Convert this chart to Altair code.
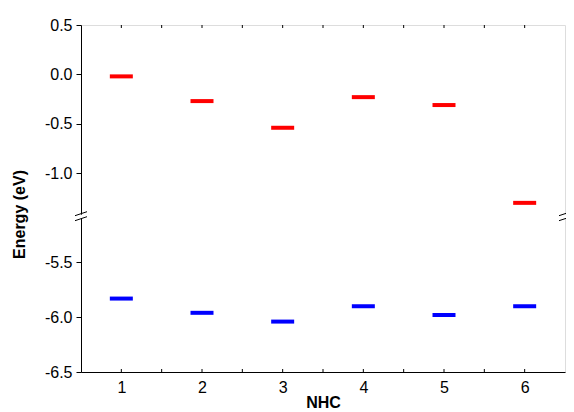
import altair as alt
import pandas as pd

nhc = [1, 2, 3, 4, 5, 6]
lumo = [-0.02, -0.27, -0.54, -0.23, -0.31, -1.30]
homo = [-5.83, -5.96, -6.04, -5.90, -5.98, -5.90]
y_ticks = [-6.5, -6.0, -5.5, -1.0, -0.5, 0.0, 0.5]
minor_x = [1.5, 2.5, 3.5, 4.5, 5.5]

W, H = 484, 347
BREAK_PX = 191.7
y_domain = [-6.5, -5.083, -1.44, 0.5]
y_range = [H, BREAK_PX, BREAK_PX, 0]

df = pd.DataFrame({
    "NHC": nhc * 2,
    "Energy": lumo + homo,
    "Level": ["LUMO"] * 6 + ["HOMO"] * 6,
})

FONT = "Liberation Sans"

xscale = alt.Scale(domain=[0.5, 6.5], nice=False, zero=False)
yscale = alt.Scale(domain=y_domain, range=y_range, nice=False, zero=False)

x_axis = alt.Axis(
    values=nhc, format="d", title="NHC", grid=False, ticks=False,
    labelFont=FONT, labelFontSize=16, labelColor="black", labelPadding=7,
    titleFont=FONT, titleFontSize=16, titleFontWeight="bold", titleColor="black",
    titleBaseline="alphabetic", titleY=35,
    domainColor="black", domainWidth=1,
)
y_axis = alt.Axis(
    values=y_ticks, title="Energy (eV)", grid=False,
    labelExpr="replace(format(datum.value, '.1f'), '\u2212', '-')",
    labelFont=FONT, labelFontSize=16, labelColor="black", labelPadding=4,
    tickSize=5, tickColor="black", domainColor="black", domainWidth=1,
    titleFont=FONT, titleFontSize=16, titleFontWeight="bold", titleColor="black",
    titleBaseline="alphabetic", titleX=-57, titleY=189, titleAngle=-90,
)

bars = alt.Chart(df).mark_tick(orient="horizontal", size=23, thickness=4, opacity=1).encode(
    x=alt.X("NHC:Q", scale=xscale, axis=x_axis),
    y=alt.Y("Energy:Q", scale=yscale, axis=y_axis),
    color=alt.Color("Level:N", scale=alt.Scale(domain=["LUMO", "HOMO"], range=["#ff0000", "#0000ff"]), legend=None),
)

tick_df = pd.DataFrame({"x": nhc + minor_x})
top_ticks = alt.Chart(tick_df).mark_rule(color="black", strokeWidth=1).encode(
    x=alt.X("x:Q", scale=xscale), y=alt.value(0), y2=alt.value(3)
)
bot_ticks = alt.Chart(tick_df).mark_rule(color="black", strokeWidth=1).encode(
    x=alt.X("x:Q", scale=xscale), y=alt.value(H - 3), y2=alt.value(H)
)

# axis break decoration
gap = alt.Chart(pd.DataFrame({"s": ["L", "R"], "xp": [0, W]})).mark_rule(color="white", strokeWidth=4).encode(
    x=alt.X("xp:Q", scale=None), y=alt.value(BREAK_PX - 2), y2=alt.value(BREAK_PX + 2)
)
slash_df = pd.DataFrame({
    "x1": [-6, -6, W - 6, W - 6],
    "x2": [6, 6, W + 6, W + 6],
    "y1": [BREAK_PX - 1, BREAK_PX + 4, BREAK_PX - 1, BREAK_PX + 4],
    "y2": [BREAK_PX - 5, BREAK_PX, BREAK_PX - 5, BREAK_PX],
})
slashes = alt.Chart(slash_df).mark_rule(color="black", strokeWidth=1).encode(
    x=alt.X("x1:Q", scale=None), x2="x2:Q",
    y=alt.Y("y1:Q", scale=None), y2="y2:Q",
)

chart = alt.layer(bars, top_ticks, bot_ticks, gap, slashes).properties(
    width=W, height=H,
    autosize=alt.AutoSizeParams(type="none"),
    padding={"left": 73, "top": 17, "right": 1, "bottom": 40},
).configure_view(stroke="black", strokeWidth=1).configure(background="white")

chart.save("out.html", embed_options={"renderer": "svg", "actions": False})
